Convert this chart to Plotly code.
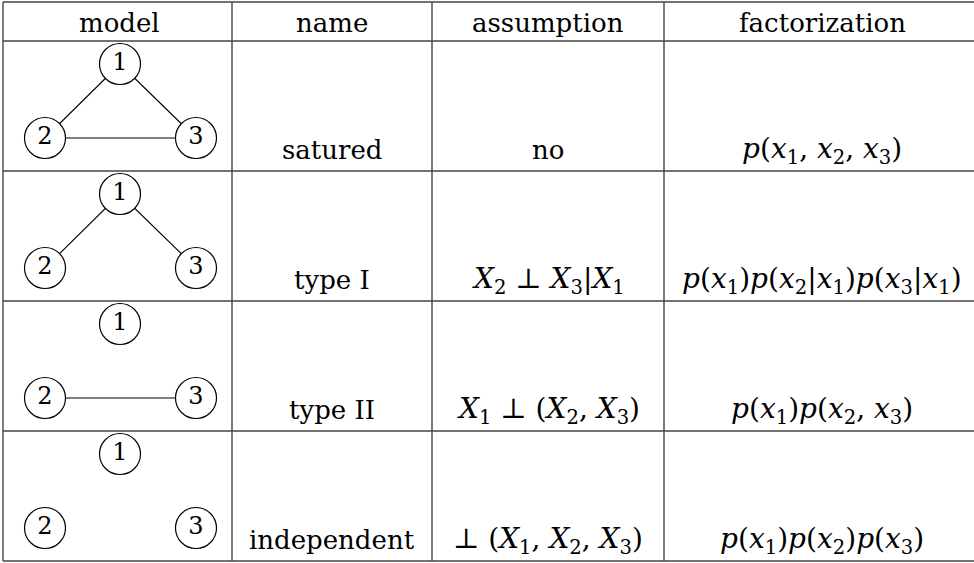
import plotly.graph_objects as go

# table content
headers = ["model", "name", "assumption", "factorization"]
names = ["satured", "type I", "type II", "independent"]
assumptions = [
    "no",
    "<i>X</i><sub>2</sub> ⊥ <i>X</i><sub>3</sub>|<i>X</i><sub>1</sub>",
    "<i>X</i><sub>1</sub> ⊥ (<i>X</i><sub>2</sub>, <i>X</i><sub>3</sub>)",
    "⊥ (<i>X</i><sub>1</sub>, <i>X</i><sub>2</sub>, <i>X</i><sub>3</sub>)",
]
factorizations = [
    "<i>p</i>(<i>x</i><sub>1</sub>, <i>x</i><sub>2</sub>, <i>x</i><sub>3</sub>)",
    "<i>p</i>(<i>x</i><sub>1</sub>)<i>p</i>(<i>x</i><sub>2</sub>|<i>x</i><sub>1</sub>)"
    "<i>p</i>(<i>x</i><sub>3</sub>|<i>x</i><sub>1</sub>)",
    "<i>p</i>(<i>x</i><sub>1</sub>)<i>p</i>(<i>x</i><sub>2</sub>, <i>x</i><sub>3</sub>)",
    "<i>p</i>(<i>x</i><sub>1</sub>)<i>p</i>(<i>x</i><sub>2</sub>)<i>p</i>(<i>x</i><sub>3</sub>)",
]
node_labels = ["1", "2", "3"]
edges = [
    [(1, 2), (1, 3), (2, 3)],
    [(1, 2), (1, 3)],
    [(2, 3)],
    [],
]

# geometry (pixel units, y grows downward)
W, H = 974, 563
col_edges = [3, 232, 432, 664, 985]
row_edges = [2, 41, 171, 301, 431, 561]
node_x = {1: 120, 2: 45, 3: 196}
node_dy = {1: 23, 2: 97, 3: 97}
FONT = "DejaVu Serif"
SIZE = 26
MATH_SIZE = 28

fig = go.Figure()

# graph drawings in the model column
for r, row_edges_list in enumerate(edges):
    top = row_edges[r + 1]
    ex, ey = [], []
    for a, b in row_edges_list:
        ex += [node_x[a], node_x[b], None]
        ey += [top + node_dy[a], top + node_dy[b], None]
    if ex:
        fig.add_trace(go.Scatter(x=ex, y=ey, mode="lines",
                                 line=dict(color="black", width=1.1),
                                 hoverinfo="skip"))
    ids = [1, 2, 3]
    fig.add_trace(go.Scatter(
        x=[node_x[i] for i in ids],
        y=[top + node_dy[i] for i in ids],
        mode="markers+text",
        text=node_labels,
        textposition="middle center",
        textfont=dict(family=FONT, size=24, color="black"),
        marker=dict(size=41, color="white", line=dict(color="black", width=1.2)),
        hoverinfo="skip",
    ))

# table rules
line_col = "#444444"
for x in col_edges:
    fig.add_shape(type="line", x0=x, x1=x, y0=row_edges[0], y1=row_edges[-1],
                  line=dict(color=line_col, width=1.4), layer="below")
for y in row_edges:
    fig.add_shape(type="line", x0=col_edges[0], x1=col_edges[-1], y0=y, y1=y,
                  line=dict(color=line_col, width=1.6), layer="below")

centers = [(col_edges[i] + col_edges[i + 1]) / 2 for i in range(4)]
centers[0] = 119
centers[3] = 822

# header
for c, h in zip(centers, headers):
    fig.add_annotation(x=c, y=(row_edges[0] + row_edges[1]) / 2 + 1, text=h,
                       showarrow=False, yanchor="middle",
                       font=dict(family=FONT, size=SIZE, color="black"))

# body text, bottom of each row
for r in range(4):
    y = row_edges[r + 2] - 21
    cells = [(names[r], SIZE), (assumptions[r], MATH_SIZE if r else SIZE),
             (factorizations[r], MATH_SIZE)]
    for c, (t, s) in zip(centers[1:], cells):
        fig.add_annotation(x=c, y=y, text=t, showarrow=False, yanchor="middle",
                           font=dict(family=FONT, size=s, color="black"))

fig.update_layout(
    width=W, height=H,
    margin=dict(l=0, r=0, t=0, b=0),
    paper_bgcolor="white", plot_bgcolor="white",
    showlegend=False,
    xaxis=dict(range=[0, W], visible=False, fixedrange=True),
    yaxis=dict(range=[H, 0], visible=False, fixedrange=True),
)

fig.write_html("out.html", config={"displayModeBar": False},
               post_script="document.body.style.margin='0';")
